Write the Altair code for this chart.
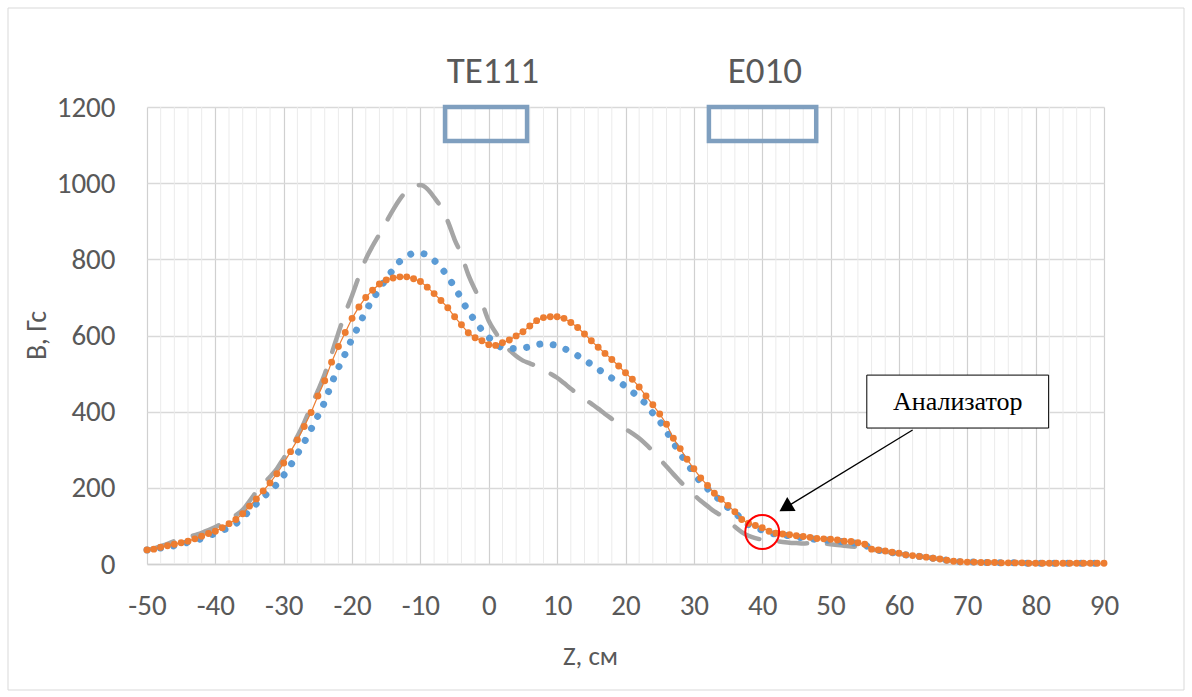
import altair as alt
import pandas as pd

# ---------------- data ----------------
z_cm = list(range(-50, 91))

orange_vals = [
    37, 39, 44, 48, 52, 56, 60, 66, 73, 80,            # -50..-41
    86, 95, 106, 117, 132, 152, 171, 192, 213, 237,    # -40..-31
    265, 295, 326, 361, 398, 441, 481, 530, 571, 608,  # -30..-21
    645, 675, 700, 719, 735, 746, 751, 754, 754, 749,  # -20..-11
    742, 727, 710, 692, 673, 649, 628, 607, 594, 586,  # -10..-1
    576, 574, 581, 588, 599, 610, 625, 639, 647, 649,  # 0..9
    649, 645, 634, 621, 604, 586, 569, 553, 537, 520,  # 10..19
    502, 485, 465, 441, 418, 394, 367, 330, 303, 275,  # 20..29
    250, 226, 206, 186, 170, 154, 137, 117, 107, 101,  # 30..39
    95, 86, 81, 79, 77, 74, 72, 70, 67, 66,            # 40..49
    65, 63, 60, 59, 56, 52, 39, 37, 34, 31,            # 50..59
    28, 24, 22, 20, 18, 15, 13, 10, 7, 6,              # 60..69
    5, 5, 4, 4, 4, 3, 3, 3, 3, 2,                      # 70..79
    2, 2, 2, 2, 2, 2, 2, 2, 2, 2,                      # 80..89
    2,                                                 # 90
]

blue_vals = [
    37, 39, 42, 44, 48, 52, 57, 61, 67, 74,
    80, 88, 96, 106, 121, 141, 158, 176, 191, 210,
    233, 259, 289, 320, 354, 389, 426, 474, 515, 552,
    592, 627, 664, 694, 722, 749, 773, 795, 807, 816,
    816, 811, 797, 779, 754, 727, 696, 663, 639, 614,
    595, 578, 568, 566, 566, 567, 571, 576, 578, 577,
    573, 566, 557, 547, 536, 524, 512, 499, 488, 479,
    466, 452, 436, 420, 396, 375, 348, 319, 290, 264,
    239, 215, 198, 180, 166, 148, 135, 118, 103, 95,
    89, 83, 78, 76, 74, 71, 69, 67, 64, 63,
    62, 60, 58, 56, 54, 51, 38, 36, 33, 30,
    27, 24, 22, 20, 18, 15, 13, 10, 7, 6,
    5, 5, 4, 4, 4, 3, 3, 3, 3, 2,
    2, 2, 2, 2, 2, 2, 2, 2, 2, 2,
    2,
]

gray_vals = [
    37, 41, 47, 53, 60, 65, 70, 76, 82, 89,
    97, 107, 117, 128, 142, 165, 190, 210, 229, 250,
    278, 304, 335, 372, 414, 455, 499, 552, 607, 659,
    705, 755, 800, 835, 866, 898, 930, 958, 980, 992,
    995, 985, 963, 937, 900, 852, 812, 760, 720, 685,
    638, 608, 580, 562, 546, 534, 527, 519, 510, 500,
    489, 475, 460, 447, 434, 421, 408, 394, 381, 367,
    355, 343, 330, 314, 296, 276, 256, 236, 217, 198,
    182, 166, 152, 138, 127, 113, 98, 84, 74, 68,
    64, 62, 60, 58, 56, 55, 54, 55, 56, 54,
    52, 50, 48, 46, 45, 44, 38, 36, 33, 30,
    27, 24, 22, 20, 18, 15, 13, 10, 7, 6,
    5, 5, 4, 4, 4, 3, 3, 3, 3, 2,
    2, 2, 2, 2, 2, 2, 2, 2, 2, 2,
    2,
]

x_ticks = list(range(-50, 91, 10))
y_ticks = [0, 200, 400, 600, 800, 1000, 1200]
minor_x = [v for v in range(-50, 91, 2) if v % 10 != 0]

mode_labels = ["TE111", "E010"]
mode_label_x = [0.6, 40.4]
mode_label_y = [1292, 1292]
mode_box_x1 = [-6.4, 32.2]
mode_box_x2 = [5.6, 47.9]
mode_box_y1 = [1111, 1111]
mode_box_y2 = [1200, 1200]

note_text = "Анализатор"
note_box = {"x1": 55.3, "x2": 81.9, "y1": 357, "y2": 496}
arrow_start = (62.0, 352)
arrow_end = (43.4, 148)
circle_center = (40, 84)

assert len(orange_vals) == len(z_cm) == len(blue_vals) == len(gray_vals)

# ---------------- frames ----------------
series = pd.DataFrame({"z": z_cm, "orange": orange_vals, "blue": blue_vals, "gray": gray_vals})
minor_df = pd.DataFrame({"z": minor_x})
modes_df = pd.DataFrame({"label": mode_labels, "lx": mode_label_x, "ly": mode_label_y,
                         "x1": mode_box_x1, "x2": mode_box_x2, "y1": mode_box_y1, "y2": mode_box_y2})
note_df = pd.DataFrame([note_box])
note_txt_df = pd.DataFrame({"t": [note_text], "x": [(note_box["x1"] + note_box["x2"]) / 2],
                            "y": [(note_box["y1"] + note_box["y2"]) / 2]})
arrow_df = pd.DataFrame({"x": [arrow_start[0]], "y": [arrow_start[1]],
                         "x2": [arrow_end[0]], "y2": [arrow_end[1]]})
head_df = pd.DataFrame({"x": [arrow_end[0]], "y": [arrow_end[1]]})
circ_df = pd.DataFrame({"x": [circle_center[0]], "y": [circle_center[1]]})

W, H = 957, 457
FONT = "Calibri, Carlito, 'Open Sans', sans-serif"
LABEL_COLOR = "#595959"

xscale = alt.Scale(domain=[-50, 90], nice=False, zero=False)
yscale = alt.Scale(domain=[0, 1200], nice=False)

xaxis = alt.Axis(values=x_ticks, grid=True, gridColor="#d0d0d0", gridWidth=1.2,
                 domain=True, domainColor="#d0d0d0", domainWidth=1.5, ticks=False,
                 labelExpr="'' + datum.value",
                 labelFont=FONT, labelFontSize=29, labelColor=LABEL_COLOR, labelPadding=27,
                 title="Z, см", titleFont=FONT, titleFontSize=27, titleFontWeight="normal",
                 titleColor=LABEL_COLOR, titleX=443, titleY=92, titleAlign="center",
                 titleBaseline="middle", labelFlush=False)
yaxis = alt.Axis(values=y_ticks, grid=True, gridColor="#d9d9d9", gridWidth=1.5,
                 domain=False, ticks=False,
                 labelExpr="'' + datum.value",
                 labelFont=FONT, labelFontSize=29, labelColor=LABEL_COLOR, labelPadding=32,
                 title="B, Гс", titleFont=FONT, titleFontSize=28, titleFontWeight="normal",
                 titleColor=LABEL_COLOR, titleX=-110, titleY=228, titleAlign="center",
                 titleBaseline="middle", titleAngle=270)

base = alt.Chart(series)

minor = alt.Chart(minor_df).mark_rule(color="#ebebeb", strokeWidth=1).encode(
    x=alt.X("z:Q", scale=xscale, axis=xaxis),
    y=alt.datum(0, scale=yscale, axis=yaxis),
    y2=alt.datum(1200),
)

gray_line = base.mark_line(color="#a5a5a5", strokeWidth=4.5, strokeDash=[28, 20],
                           strokeCap="round", interpolate="monotone").encode(
    x=alt.X("z:Q", scale=xscale), y=alt.Y("gray:Q", scale=yscale))

blue_line = base.mark_line(color="#5b9bd5", strokeWidth=7, strokeDash=[0.01, 13.5],
                           strokeCap="round", interpolate="monotone").encode(
    x=alt.X("z:Q", scale=xscale), y=alt.Y("blue:Q", scale=yscale))

orange_line = base.mark_line(color="#ed7d31", strokeWidth=1.2).encode(
    x=alt.X("z:Q", scale=xscale), y=alt.Y("orange:Q", scale=yscale))

orange_pts = base.mark_circle(color="#ed7d31", size=48, opacity=1).encode(
    x=alt.X("z:Q", scale=xscale), y=alt.Y("orange:Q", scale=yscale))

boxes = alt.Chart(modes_df).mark_rect(fill=None, stroke="#7f9fbf", strokeWidth=4.5).encode(
    x=alt.X("x1:Q", scale=xscale), x2="x2:Q",
    y=alt.Y("y1:Q", scale=yscale), y2="y2:Q")

mode_text = alt.Chart(modes_df).mark_text(font=FONT, fontSize=37, color=LABEL_COLOR,
                                          align="center", baseline="middle").encode(
    x=alt.X("lx:Q", scale=xscale), y=alt.Y("ly:Q", scale=yscale), text="label:N")

note_rect = alt.Chart(note_df).mark_rect(fill="white", stroke="black", strokeWidth=1).encode(
    x=alt.X("x1:Q", scale=xscale), x2="x2:Q",
    y=alt.Y("y1:Q", scale=yscale), y2="y2:Q")

note_label = alt.Chart(note_txt_df).mark_text(font="'Liberation Serif', 'Times New Roman', serif",
                                              fontSize=26, color="black", align="center",
                                              baseline="middle").encode(
    x=alt.X("x:Q", scale=xscale), y=alt.Y("y:Q", scale=yscale), text="t:N")

arrow = alt.Chart(arrow_df).mark_rule(color="black", strokeWidth=1.3).encode(
    x=alt.X("x:Q", scale=xscale), y=alt.Y("y:Q", scale=yscale), x2="x2:Q", y2="y2:Q")

head = alt.Chart(head_df).mark_point(shape="triangle-up", filled=True, color="black",
                                     size=260, angle=238.7, opacity=1).encode(
    x=alt.X("x:Q", scale=xscale), y=alt.Y("y:Q", scale=yscale))

circle = alt.Chart(circ_df).mark_point(shape="circle", filled=False, color="#ff0000",
                                       size=1150, strokeWidth=2, opacity=1).encode(
    x=alt.X("x:Q", scale=xscale), y=alt.Y("y:Q", scale=yscale))

frame = alt.Chart(pd.DataFrame({"k": [0]})).mark_rect(fill=None, stroke="#d9d9d9", strokeWidth=1).encode(
    x=alt.value(-139), x2=alt.value(1037), y=alt.value(-99), y2=alt.value(583))

chart = alt.layer(
    minor, gray_line, blue_line, orange_line, orange_pts, boxes, mode_text,
    note_rect, note_label, arrow, head, circle, frame
).properties(
    width=W, height=H,
    autosize=alt.AutoSizeParams(type="none"),
    padding={"left": 147, "top": 107, "right": 88, "bottom": 133},
    background="white",
).configure_view(stroke=None)

chart.save("out.html", embed_options={"renderer": "svg", "actions": False})
